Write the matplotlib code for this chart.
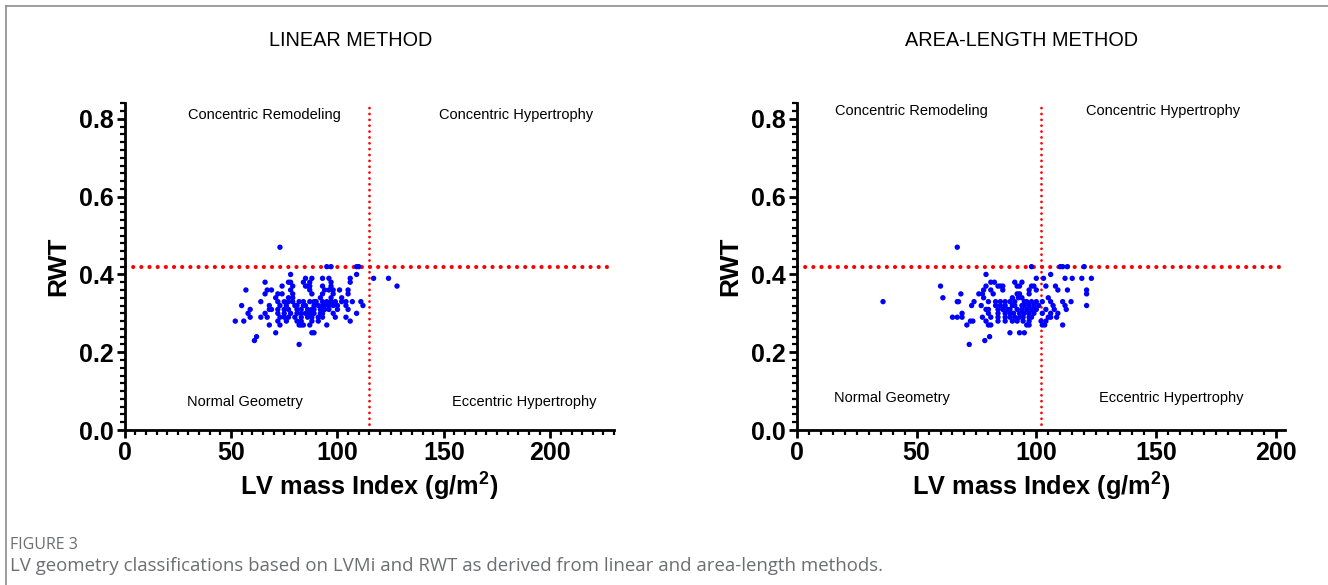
import numpy as np
import matplotlib
matplotlib.use('Agg')
import matplotlib.pyplot as plt
from matplotlib.lines import Line2D
from matplotlib.ticker import MultipleLocator

plt.rcParams['font.family'] = ['Liberation Sans', 'DejaVu Sans']
plt.rcParams['mathtext.fontset'] = 'custom'
plt.rcParams['mathtext.rm'] = 'Liberation Sans'
plt.rcParams['mathtext.bf'] = 'Liberation Sans:bold'

# DATOS ---------------------------------------------
# cada fila de RWT con sus valores de LVMi (g/m2)
filas_rwt = [0.47, 0.42, 0.40, 0.39, 0.38, 0.37, 0.36, 0.35, 0.34, 0.33,
             0.32, 0.31, 0.30, 0.29, 0.28, 0.27, 0.25, 0.24, 0.23, 0.22]

lvmi_lineal = [
    [73],
    [95, 97, 109, 110],
    [78, 109],
    [85, 88, 93, 96, 106, 117, 124],
    [66, 77, 78, 84, 87, 97, 106],
    [74, 79, 85, 86, 87, 93, 97, 128],
    [57, 67, 69, 78, 87, 94, 96, 98, 101, 105],
    [66, 72, 74, 79, 88, 93, 98, 105],
    [71, 77, 79, 92, 97, 102],
    [64, 72, 75, 77, 79, 82, 84, 87, 89, 90, 93, 95, 97, 99, 102, 104, 107, 111],
    [55, 68, 73, 76, 80, 81, 84, 85, 89, 91, 93, 94, 96, 98, 100, 104, 112],
    [59, 68, 69, 72, 75, 77, 81, 83, 86, 88, 89, 92, 94, 96, 100, 105],
    [58, 66, 72, 75, 78, 81, 83, 85, 87, 89, 92, 93, 98, 109],
    [59, 64, 67, 73, 75, 77, 80, 83, 86, 88, 91, 93, 99, 104],
    [52, 56, 72, 76, 81, 83, 88, 91, 106],
    [68, 73, 82, 83, 84, 87, 95],
    [71, 88, 89],
    [62],
    [61],
    [82],
]

lvmi_area = [
    [67],
    [98, 110, 111, 113, 120],
    [79, 106],
    [100, 103, 112, 115, 119, 123],
    [81, 82.5, 91, 94],
    [60, 79, 84, 85, 86, 92, 93, 98, 99, 104, 108],
    [78, 81, 86, 97, 100, 109, 113, 121],
    [68.5, 76, 77.5, 82, 92, 93, 97, 121],
    [61, 78, 90, 92.5, 94, 105],
    [36, 67, 67.5, 74, 80, 83, 85, 87, 89, 91, 95, 96, 98, 100, 102.5, 106, 111, 114.5],
    [73, 77, 83, 85, 87, 90, 91, 94, 95, 97, 99, 101, 107, 112, 121],
    [79, 80, 84, 86, 88, 89, 92, 94, 96, 98, 100, 104, 107.5, 112.5],
    [69, 80, 84, 87, 89, 90.5, 93, 95, 97, 99, 102.5, 106, 109],
    [65, 67, 69, 77.5, 81, 84, 87, 89, 91, 93, 94.5, 97, 98, 105, 106, 108.5],
    [72.5, 73.5, 79, 84, 87, 90, 92, 94.5, 97, 102, 104],
    [71, 80, 81, 96, 97, 102.5, 103.5, 111],
    [89, 93, 95],
    [80.5],
    [78.5],
    [72],
]

corte_rwt = 0.42
corte_lineal = 115
corte_area = 102

titulos = ['LINEAR METHOD', 'AREA-LENGTH METHOD']
cuadrantes = ['Concentric Remodeling', 'Concentric Hypertrophy',
              'Normal Geometry', 'Eccentric Hypertrophy']


def aplanar(filas, valores):
    xs, ys = [], []
    for r, fila in zip(filas, valores):
        for v in fila:
            xs.append(v)
            ys.append(r)
    return np.array(xs), np.array(ys)


# GRAFICA -------------------------------------------
W, H = 1328, 585
fig = plt.figure(figsize=(W/100, H/100), dpi=100)

# marco gris
fig.add_artist(Line2D([6/W, 1], [1-6/H, 1-6/H], transform=fig.transFigure,
                      color='#8c8c8c', lw=1.2))
fig.add_artist(Line2D([6/W, 6/W], [0, 1-6/H], transform=fig.transFigure,
                      color='#8c8c8c', lw=1.2))

paneles = [
    dict(x0=124.6, xmax=230, corte=corte_lineal, datos=lvmi_lineal,
         tit_x=351, pos_txt=[(65.5, 0.81), (183.8, 0.81), (56.5, 0.072), (187.6, 0.072)]),
    dict(x0=796.8, xmax=204, corte=corte_area, datos=lvmi_area,
         tit_x=1022, pos_txt=[(47.7, 0.82), (152.9, 0.82), (39.8, 0.082), (156.3, 0.082)]),
]

for i, p in enumerate(paneles):
    ancho = 489.5 if i == 0 else 2.395*p['xmax']
    ax = fig.add_axes([p['x0']/W, (H-430)/H, ancho/W, (430-103.3)/H])
    xs, ys = aplanar(filas_rwt, p['datos'])

    ax.plot([0, p['xmax']], [corte_rwt, corte_rwt], color='red', lw=3.0,
            linestyle=(0, (0.01, 1.95)), dash_capstyle='round', zorder=2)
    ax.plot([p['corte'], p['corte']], [0, 0.84], color='red', lw=2.0,
            linestyle=(0, (0.01, 2.1)), dash_capstyle='round', zorder=2)
    ax.scatter(xs, ys, s=15, color='#0000ff', edgecolors='none', zorder=3)

    ax.set_xlim(0, p['xmax'])
    ax.set_ylim(0, 0.84)
    for s in ['top', 'right']:
        ax.spines[s].set_visible(False)
    for s in ['left', 'bottom']:
        ax.spines[s].set_linewidth(2)
    ax.xaxis.set_major_locator(MultipleLocator(50))
    ax.xaxis.set_minor_locator(MultipleLocator(5))
    ax.yaxis.set_major_locator(MultipleLocator(0.2))
    ax.yaxis.set_minor_locator(MultipleLocator(0.02))
    ax.set_yticks([0, 0.2, 0.4, 0.6, 0.8])
    ax.set_yticklabels(['0.0', '0.2', '0.4', '0.6', '0.8'])
    ax.tick_params(which='major', length=6, width=2, labelsize=18, pad=2)
    ax.tick_params(which='minor', length=3.5, width=1.6)
    for lab in ax.get_xticklabels() + ax.get_yticklabels():
        lab.set_fontweight('bold')

    ax.set_ylabel('RWT', fontsize=19, fontweight='bold', labelpad=6)
    ax.set_xlabel(r'LV mass Index (g/m$^{\mathbf{2}}$)', fontsize=18.3,
                  fontweight='bold', labelpad=4)

    for t, (tx, ty) in zip(cuadrantes, p['pos_txt']):
        ax.text(tx, ty, t, ha='center', va='center', fontsize=10.5)

    fig.text(p['tit_x']/W, 1-40/H, titulos[i], ha='center', va='center',
             fontsize=14.3)

fig.text(10/W, 1-545/H, 'FIGURE 3', ha='left', va='center', fontsize=11.5,
         color='#6d6e71', family='Open Sans')
fig.text(10/W, 1-566/H,
         'LV geometry classifications based on LVMi and RWT as derived from linear and area-length methods.',
         ha='left', va='center', fontsize=13.4, color='#6d6e71', family='Open Sans')

fig.savefig('out.png', dpi=100)
